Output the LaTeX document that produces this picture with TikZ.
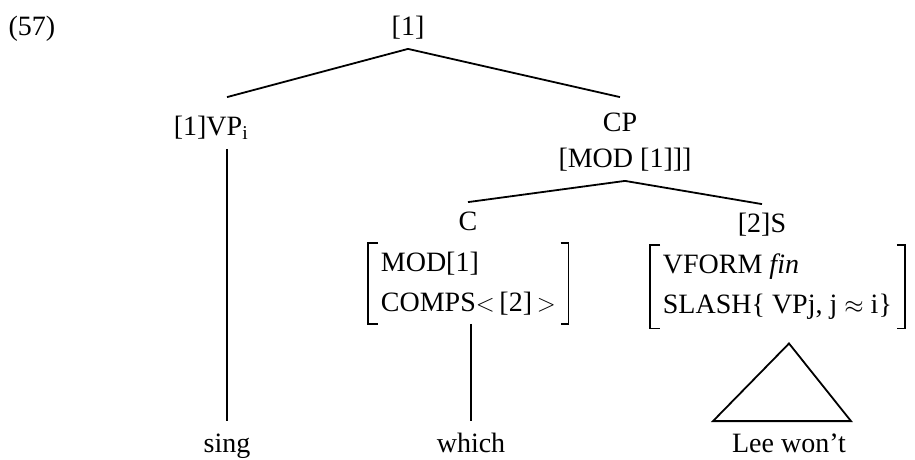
\documentclass[tikz,border=0pt]{standalone}
\usepackage{fontspec}
\setmainfont{Liberation Serif}
\usetikzlibrary{positioning}
\usetikzlibrary{calc}

\begin{document}
\begin{tikzpicture}[x=1pt,y=-1pt,line width=1.8pt]

\tikzstyle{lbl}=[anchor=base,inner xsep=0pt,inner ysep=7pt,text height=20pt,text depth=6pt,font=\fontsize{28}{40}\selectfont];
\tikzstyle{avm}=[anchor=north west,align=left,inner xsep=12pt,inner ysep=8pt,font=\fontsize{28}{40}\selectfont];
\tikzstyle{brk}=[line width=1.3pt];

\useasboundingbox (0,0) rectangle (915,459);

\node [lbl] (num) at (32,35) {(57)};
\node [lbl] (top) at (408,35) {[1]};

\node [lbl,text height=30pt] (vp) at (211,135) {[1]VP\textsubscript{i}};
\node [lbl,text height=26pt] (cp) at (620,131) {CP};
\node [lbl] (cpmod) at (625,167) {[MOD [1]]]};

\node [lbl] (c) at (468,230) {C};
\node [lbl] (s) at (762,232) {[2]S};

%feature structures
\node [avm] (cavm) at (368,243) {MOD[1]\\COMPS$<$\,[2]\,$>$};
\node [avm] (savm) at (650,245) {VFORM \textit{fin}\\SLASH\{ VPj, j $\approx$ i\}};

\draw [brk] ([xshift=10pt]cavm.north west) -| (cavm.south west) -- ++(10,0);
\draw [brk] ([xshift=-8pt]cavm.north east) -| (cavm.south east) -- ++(-8,0);
\draw [brk] ([xshift=10pt]savm.north west) -| (savm.south west) -- ++(10,0);
\draw [brk] ([xshift=-8pt]savm.north east) -| (savm.south east) -- ++(-8,0);

\node [lbl,text height=23pt] (sing) at (227,452) {sing};
\node [lbl,text height=23pt] (which) at (471,452) {which};
\node [lbl,text height=23pt] (lee) at (789,452) {Lee won’t};

\draw (top.south) -- (vp.north -| sing.north);
\draw (top.south) -- (cp.north);
\draw (vp.south -| sing.north) -- (sing.north);
\draw (cpmod.south) -- (c.north);
\draw (cpmod.south) -- (s.north);
\draw (cavm.south -| which.north) -- (which.north);

%roof over the clause
\draw ([yshift=-15pt]savm.south -| lee.north) -- ([xshift=-76pt]lee.north) -- ([xshift=62pt]lee.north) -- cycle;

\end{tikzpicture}
\end{document}
